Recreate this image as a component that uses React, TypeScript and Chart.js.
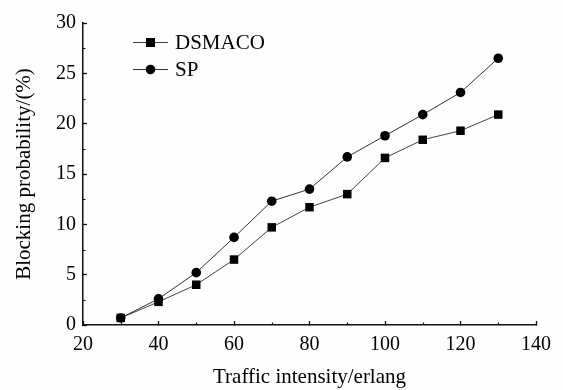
import React, { useEffect, useRef } from "react";
import { Chart, registerables } from "chart.js";

Chart.register(...registerables);

const xValues = [30, 40, 50, 60, 70, 80, 90, 100, 110, 120, 130];
const dsmaco = [0.7, 2.3, 4.0, 6.5, 9.7, 11.7, 13.0, 16.6, 18.4, 19.3, 20.9];
const sp = [0.7, 2.6, 5.2, 8.7, 12.3, 13.5, 16.7, 18.8, 20.9, 23.1, 26.5];
const seriesNames = ["DSMACO", "SP"];
const xTitle = "Traffic intensity/erlang";
const yTitle = "Blocking probability/(%)";
const xMinorTicks = [30, 50, 70, 90, 110, 130];
const yMinorTicks = [2.5, 7.5, 12.5, 17.5, 22.5, 27.5];

const FONT = "'Liberation Serif', 'Times New Roman', serif";

const minorTickPlugin = {
  id: "minorTicks",
  afterDraw(chart: any) {
    const ctx = chart.ctx;
    const xs = chart.scales.x;
    const ys = chart.scales.y;
    const area = chart.chartArea;
    ctx.save();
    ctx.strokeStyle = "#111";
    ctx.lineWidth = 1.2;
    ctx.beginPath();
    for (const v of xMinorTicks) {
      const px = Math.round(xs.getPixelForValue(v)) + 0.5;
      ctx.moveTo(px, area.bottom);
      ctx.lineTo(px, area.bottom - 2.5);
    }
    for (const v of yMinorTicks) {
      const py = Math.round(ys.getPixelForValue(v)) + 0.5;
      ctx.moveTo(area.left, py);
      ctx.lineTo(area.left + 2.5, py);
    }
    ctx.stroke();
    ctx.restore();
  },
};

const legendPlugin = {
  id: "customLegend",
  afterDraw(chart: any) {
    const ctx = chart.ctx;
    const rows = [42, 69];
    ctx.save();
    chart.data.datasets.forEach((ds: any, i: number) => {
      const y = rows[i];
      ctx.strokeStyle = ds.borderColor;
      ctx.lineWidth = 1;
      ctx.beginPath();
      ctx.moveTo(133, y + 0.5);
      ctx.lineTo(168, y + 0.5);
      ctx.stroke();
      ctx.fillStyle = "#000";
      if (ds.pointStyle === "rect") {
        ctx.fillRect(150.5 - 4.5, y - 4, 9, 9);
      } else {
        ctx.beginPath();
        ctx.arc(150.5, y + 0.5, 4.8, 0, Math.PI * 2);
        ctx.fill();
      }
      ctx.fillStyle = "#000";
      ctx.font = `21px ${FONT}`;
      ctx.textBaseline = "middle";
      ctx.textAlign = "left";
      ctx.fillText(ds.label, 175, y + 1);
    });
    ctx.restore();
  },
};

const bgPlugin = {
  id: "bg",
  beforeDraw(chart: any) {
    const ctx = chart.ctx;
    ctx.save();
    ctx.fillStyle = "#fdfdfd";
    ctx.fillRect(0, 0, chart.width, chart.height);
    ctx.restore();
  },
};

export default function App() {
  const ref = useRef<HTMLCanvasElement | null>(null);
  useEffect(() => {
    if (!ref.current) return;
    const chart = new Chart(ref.current, {
      type: "line",
      data: {
        datasets: [
          {
            label: seriesNames[0],
            data: xValues.map((x, i) => ({ x, y: dsmaco[i] })),
            borderColor: "#444",
            backgroundColor: "#000",
            pointBackgroundColor: "#000",
            pointBorderColor: "#000",
            borderWidth: 1,
            pointStyle: "rect",
            pointRadius: 6,
            pointBorderWidth: 0,
          },
          {
            label: seriesNames[1],
            data: xValues.map((x, i) => ({ x, y: sp[i] })),
            borderColor: "#333",
            backgroundColor: "#000",
            pointBackgroundColor: "#000",
            pointBorderColor: "#000",
            borderWidth: 1,
            pointStyle: "circle",
            pointRadius: 4.8,
            pointBorderWidth: 0,
          },
        ],
      },
      options: {
        animation: false,
        responsive: false,
        maintainAspectRatio: false,
        layout: { padding: { left: 0, right: 24, top: 20, bottom: 0 } },
        plugins: {
          legend: { display: false },
          tooltip: { enabled: false },
        },
        scales: {
          x: {
            type: "linear",
            min: 20,
            max: 140,
            position: "bottom",
            afterFit(scale: any) {
              scale.height = 65;
            },
            ticks: {
              stepSize: 20,
              padding: 12,
              color: "#000",
              font: { family: FONT, size: 20 },
              maxRotation: 0,
            },
            grid: {
              drawOnChartArea: false,
              drawTicks: true,
              tickLength: -4,
              tickColor: "#111",
              tickWidth: 1.3,
            },
            border: { display: true, color: "#111", width: 1.5 },
            title: {
              display: true,
              text: xTitle,
              color: "#000",
              font: { family: FONT, size: 21 },
              padding: { top: 0, bottom: 0 },
            },
          },
          y: {
            type: "linear",
            min: 0,
            max: 30,
            afterFit(scale: any) {
              scale.width = 83;
            },
            ticks: {
              stepSize: 5,
              padding: 11,
              color: "#000",
              font: { family: FONT, size: 20 },
            },
            grid: {
              drawOnChartArea: false,
              drawTicks: true,
              tickLength: -4,
              tickColor: "#111",
              tickWidth: 1.3,
            },
            border: { display: true, color: "#111", width: 1.5 },
            title: {
              display: true,
              text: yTitle,
              color: "#000",
              font: { family: FONT, size: 21 },
              padding: { top: 12, bottom: 0 },
            },
          },
        },
      },
      plugins: [bgPlugin, minorTickPlugin, legendPlugin],
    });
    return () => chart.destroy();
  }, []);
  return (
    <div style={{ position: "fixed", left: 0, top: 0, width: 563, height: 390 }}>
      <canvas ref={ref} width={563} height={390} style={{ width: 563, height: 390, display: "block" }} />
    </div>
  );
}
